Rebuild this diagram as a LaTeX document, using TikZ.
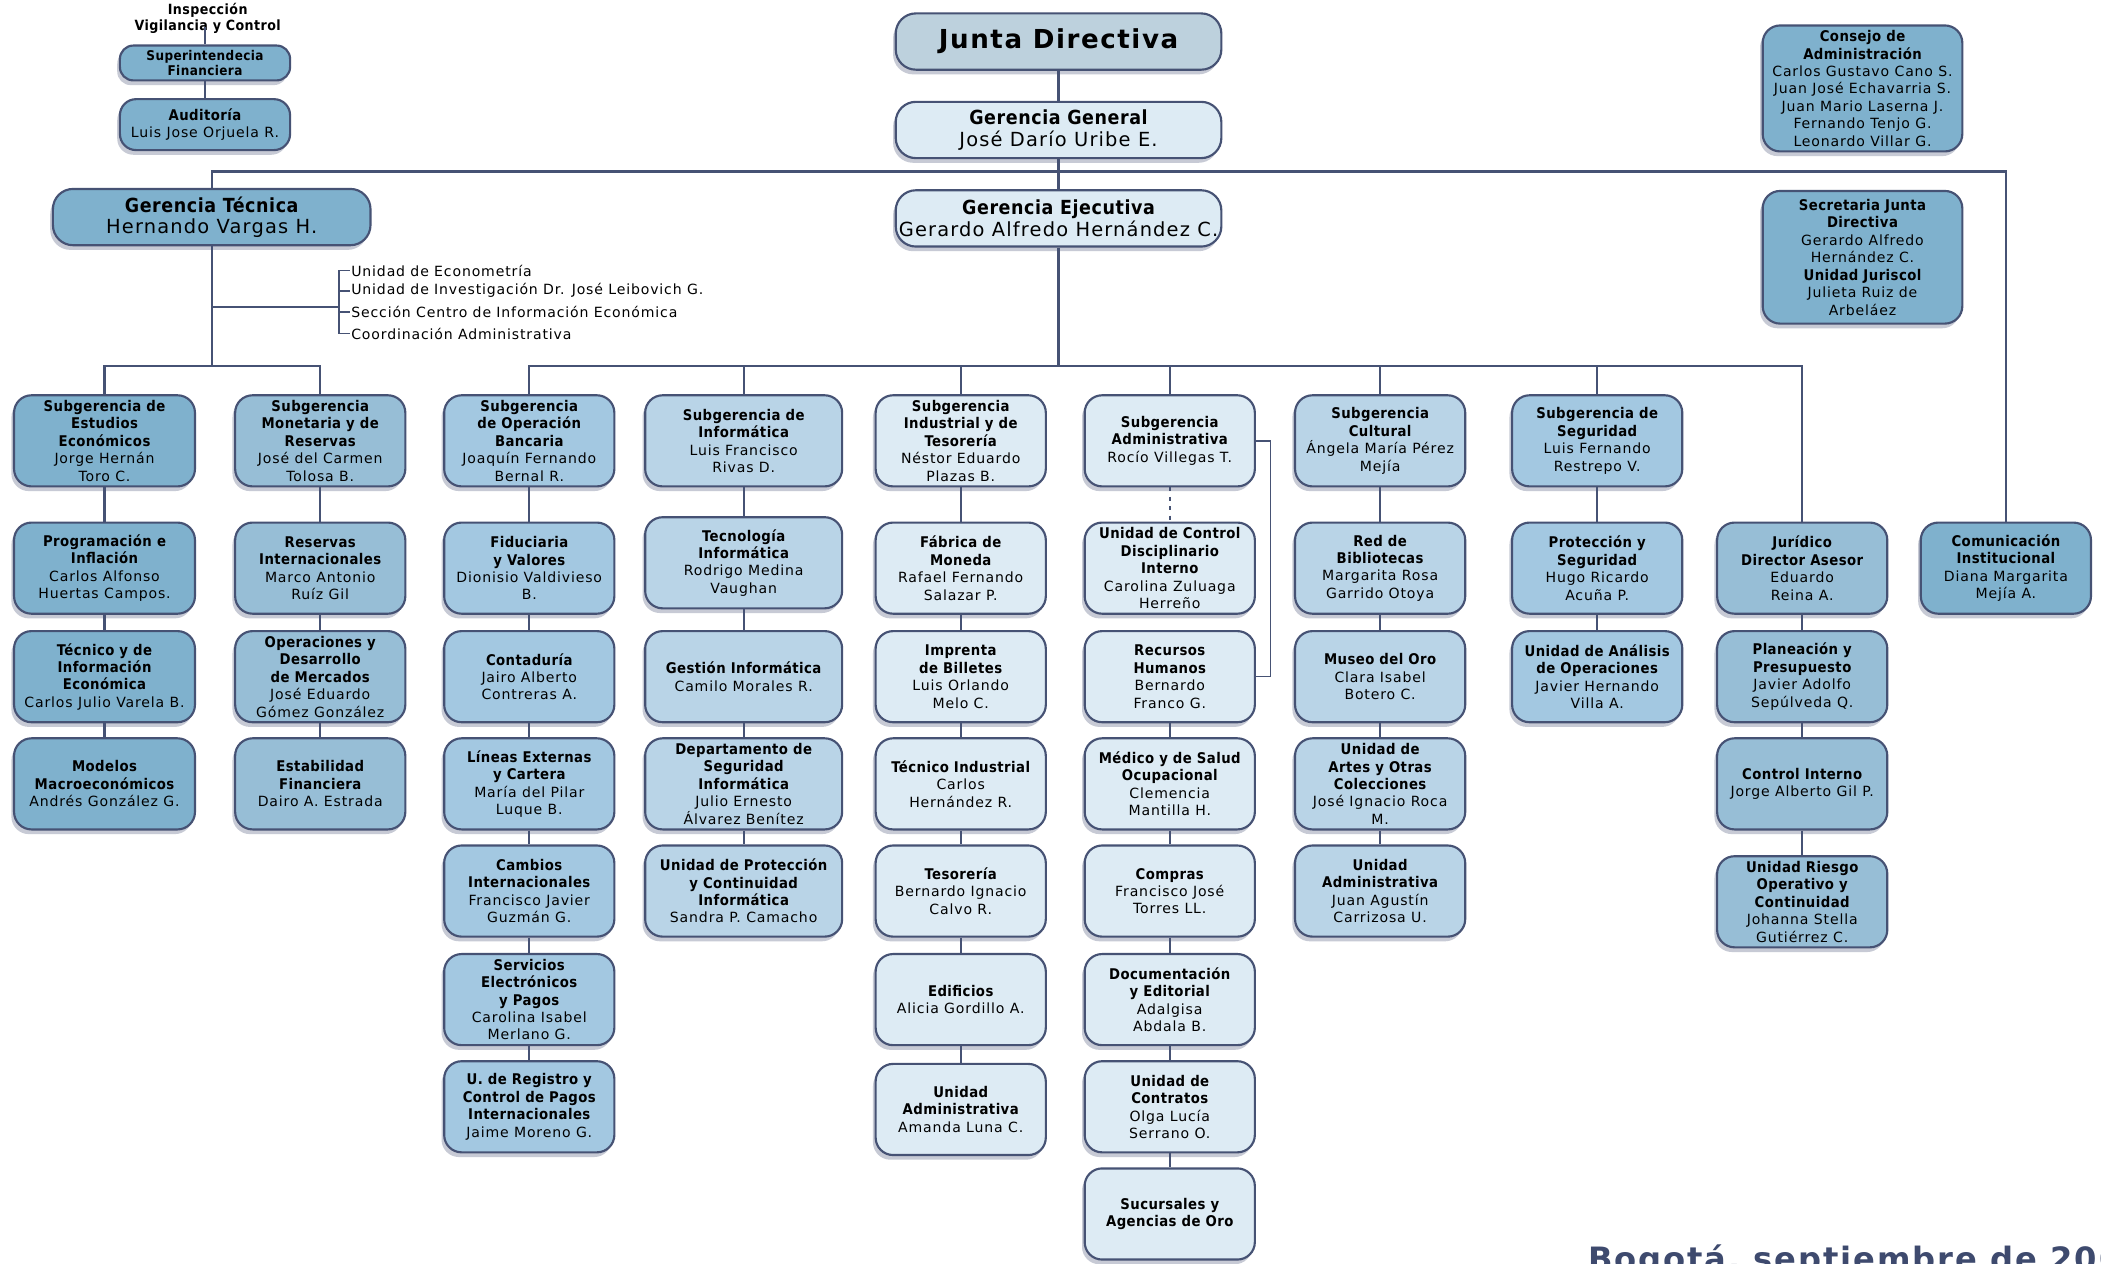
\documentclass[tikz,border=0pt]{standalone}
\usepackage{fontspec}
\setmainfont{DejaVu Sans}[LetterSpace=6.0]
\newfontfamily\condfont{DejaVu Sans Condensed}[LetterSpace=3.0]
\usetikzlibrary{shadows}

\definecolor{linec}{HTML}{465274}
\definecolor{cA}{HTML}{7FB1CD}
\definecolor{cB}{HTML}{97BED6}
\definecolor{cC}{HTML}{A3C8E1}
\definecolor{cD}{HTML}{B9D4E7}
\definecolor{cE}{HTML}{DDEBF4}
\definecolor{cJ}{HTML}{BDD1DD}
\definecolor{datec}{HTML}{3E4A6E}

\newcommand{\hdr}[1]{{\condfont\bfseries\fontsize{11}{13}\selectfont #1}}
\newcommand{\hbig}[1]{{\condfont\bfseries\fontsize{14.5}{16}\selectfont #1}}

\tikzset{
  conn/.style={draw=linec, line width=1.6pt},
  box/.style={draw=linec, line width=1.6pt, rounded corners=13pt, minimum width=127pt, minimum height=68pt,
    inner sep=1pt, align=center, font=\fontsize{10.5}{13}\selectfont,
    drop shadow={shadow xshift=-2pt, shadow yshift=-3.5pt, opacity=0.3, fill=linec}},
  head/.style={box, minimum width=243pt, minimum height=42pt, rounded corners=15pt, font=\fontsize{14.5}{16}\selectfont},
  unit/.style={anchor=west, inner sep=1pt, font=\fontsize{10.5}{12}\selectfont}
}

\begin{document}
\begin{tikzpicture}[x=1pt, y=-1pt]
    \path[use as bounding box, fill=white] (0,0) rectangle (1568,943);

    \node[align=center, font=\condfont\bfseries\fontsize{10.5}{12}\selectfont] (insp) at (155,14) {Inspección\\Vigilancia y Control};
    \node[box, fill=cA, minimum height=26pt, rounded corners=10pt, font=\condfont\bfseries\fontsize{10}{11}\selectfont] (sup) at (153,47) {Superintendecia\\Financiera};
    \node[box, fill=cA, minimum height=38pt, rounded corners=12pt] (aud) at (153,93) {\hdr{Auditoría}\\Luis Jose Orjuela R.};

    \node[head, fill=cJ, font=\bfseries\fontsize{19.5}{22}\selectfont] (junta) at (790,31) {Junta Directiva};
    \node[head, fill=cE] (gg) at (790,97) {\hbig{Gerencia General}\\José Darío Uribe E.};
    \node[head, fill=cE] (ge) at (790,163) {\hbig{Gerencia Ejecutiva}\\Gerardo Alfredo Hernández C.};
    \node[head, fill=cA, minimum width=237pt] (gt) at (158,162) {\hbig{Gerencia Técnica}\\Hernando Vargas H.};

    \node[box, fill=cA, minimum width=149pt, minimum height=94pt] (consejo) at (1390,66) {\hdr{Consejo de}\\\hdr{Administración}\\Carlos Gustavo Cano S.\\Juan José Echavarria S.\\Juan Mario Laserna J.\\Fernando Tenjo G.\\Leonardo Villar G.};
    \node[box, fill=cA, minimum width=149pt, minimum height=99pt] (secre) at (1390,192) {\hdr{Secretaria Junta}\\\hdr{Directiva}\\Gerardo Alfredo\\Hernández C.\\\hdr{Unidad Juriscol}\\Julieta Ruiz de\\Arbeláez};

    \node[unit] (u1) at (261,202) {Unidad de Econometría};
    \node[unit] (u2) at (261,217) {Unidad de Investigación Dr. José Leibovich G.};
    \node[unit] (u3) at (261,233) {Sección Centro de Información Económica};
    \node[unit] (u4) at (261,249) {Coordinación Administrativa};

    \node[box, fill=cA, minimum width=135pt] (est1) at (78,329) {\hdr{Subgerencia de}\\\hdr{Estudios}\\\hdr{Económicos}\\Jorge Hernán\\Toro C.};
    \node[box, fill=cA, minimum width=135pt] (est2) at (78,424) {\hdr{Programación e}\\\hdr{Inflación}\\Carlos Alfonso\\Huertas Campos.};
    \node[box, fill=cA, minimum width=135pt] (est3) at (78,505) {\hdr{Técnico y de}\\\hdr{Información}\\\hdr{Económica}\\Carlos Julio Varela B.};
    \node[box, fill=cA, minimum width=135pt] (est4) at (78,585) {\hdr{Modelos}\\\hdr{Macroeconómicos}\\Andrés González G.};

    \node[box, fill=cB] (mon1) at (239,329) {\hdr{Subgerencia}\\\hdr{Monetaria y de}\\\hdr{Reservas}\\José del Carmen\\Tolosa B.};
    \node[box, fill=cB] (mon2) at (239,424) {\hdr{Reservas}\\\hdr{Internacionales}\\Marco Antonio\\Ruíz Gil};
    \node[box, fill=cB] (mon3) at (239,505) {\hdr{Operaciones y}\\\hdr{Desarrollo}\\\hdr{de Mercados}\\José Eduardo\\Gómez González};
    \node[box, fill=cB] (mon4) at (239,585) {\hdr{Estabilidad}\\\hdr{Financiera}\\Dairo A. Estrada};

    \node[box, fill=cC] (ban1) at (395,329) {\hdr{Subgerencia}\\\hdr{de Operación}\\\hdr{Bancaria}\\Joaquín Fernando\\Bernal R.};
    \node[box, fill=cC] (ban2) at (395,424) {\hdr{Fiduciaria}\\\hdr{y Valores}\\Dionisio Valdivieso\\B.};
    \node[box, fill=cC] (ban3) at (395,505) {\hdr{Contaduría}\\Jairo Alberto\\Contreras A.};
    \node[box, fill=cC] (ban4) at (395,585) {\hdr{Líneas Externas}\\\hdr{y Cartera}\\María del Pilar\\Luque B.};
    \node[box, fill=cC] (ban5) at (395,665) {\hdr{Cambios}\\\hdr{Internacionales}\\Francisco Javier\\Guzmán G.};
    \node[box, fill=cC] (ban6) at (395,746) {\hdr{Servicios}\\\hdr{Electrónicos}\\\hdr{y Pagos}\\Carolina Isabel\\Merlano G.};
    \node[box, fill=cC] (ban7) at (395,826) {\hdr{U. de Registro y}\\\hdr{Control de Pagos}\\\hdr{Internacionales}\\Jaime Moreno G.};

    \node[box, fill=cD, minimum width=147pt] (inf1) at (555,329) {\hdr{Subgerencia de}\\\hdr{Informática}\\Luis Francisco\\Rivas D.};
    \node[box, fill=cD, minimum width=147pt] (inf2) at (555,420) {\hdr{Tecnología}\\\hdr{Informática}\\Rodrigo Medina\\Vaughan};
    \node[box, fill=cD, minimum width=147pt] (inf3) at (555,505) {\hdr{Gestión Informática}\\Camilo Morales R.};
    \node[box, fill=cD, minimum width=147pt] (inf4) at (555,585) {\hdr{Departamento de}\\\hdr{Seguridad}\\\hdr{Informática}\\Julio Ernesto\\Álvarez Benítez};
    \node[box, fill=cD, minimum width=147pt] (inf5) at (555,665) {\hdr{Unidad de Protección}\\\hdr{y Continuidad}\\\hdr{Informática}\\Sandra P. Camacho};

    \node[box, fill=cE] (ind1) at (717,329) {\hdr{Subgerencia}\\\hdr{Industrial y de}\\\hdr{Tesorería}\\Néstor Eduardo\\Plazas B.};
    \node[box, fill=cE] (ind2) at (717,424) {\hdr{Fábrica de}\\\hdr{Moneda}\\Rafael Fernando\\Salazar P.};
    \node[box, fill=cE] (ind3) at (717,505) {\hdr{Imprenta}\\\hdr{de Billetes}\\Luis Orlando\\Melo C.};
    \node[box, fill=cE] (ind4) at (717,585) {\hdr{Técnico Industrial}\\Carlos\\Hernández R.};
    \node[box, fill=cE] (ind5) at (717,665) {\hdr{Tesorería}\\Bernardo Ignacio\\Calvo R.};
    \node[box, fill=cE] (ind6) at (717,746) {\hdr{Edificios}\\Alicia Gordillo A.};
    \node[box, fill=cE] (ind7) at (717,828) {\hdr{Unidad}\\\hdr{Administrativa}\\Amanda Luna C.};

    \node[box, fill=cE] (adm1) at (873,329) {\hdr{Subgerencia}\\\hdr{Administrativa}\\Rocío Villegas T.};
    \node[box, fill=cE] (adm2) at (873,424) {\hdr{Unidad de Control}\\\hdr{Disciplinario}\\\hdr{Interno}\\Carolina Zuluaga\\Herreño};
    \node[box, fill=cE] (adm3) at (873,505) {\hdr{Recursos}\\\hdr{Humanos}\\Bernardo\\Franco G.};
    \node[box, fill=cE] (adm4) at (873,585) {\hdr{Médico y de Salud}\\\hdr{Ocupacional}\\Clemencia\\Mantilla H.};
    \node[box, fill=cE] (adm5) at (873,665) {\hdr{Compras}\\Francisco José\\Torres LL.};
    \node[box, fill=cE] (adm6) at (873,746) {\hdr{Documentación}\\\hdr{y Editorial}\\Adalgisa\\Abdala B.};
    \node[box, fill=cE] (adm7) at (873,826) {\hdr{Unidad de}\\\hdr{Contratos}\\Olga Lucía\\Serrano O.};
    \node[box, fill=cE] (adm8) at (873,906) {\hdr{Sucursales y}\\\hdr{Agencias de Oro}};

    \node[box, fill=cD] (cul1) at (1030,329) {\hdr{Subgerencia}\\\hdr{Cultural}\\Ángela María Pérez\\Mejía};
    \node[box, fill=cD] (cul2) at (1030,424) {\hdr{Red de}\\\hdr{Bibliotecas}\\Margarita Rosa\\Garrido Otoya};
    \node[box, fill=cD] (cul3) at (1030,505) {\hdr{Museo del Oro}\\Clara Isabel\\Botero C.};
    \node[box, fill=cD] (cul4) at (1030,585) {\hdr{Unidad de}\\\hdr{Artes y Otras}\\\hdr{Colecciones}\\José Ignacio Roca\\M.};
    \node[box, fill=cD] (cul5) at (1030,665) {\hdr{Unidad}\\\hdr{Administrativa}\\Juan Agustín\\Carrizosa U.};

    \node[box, fill=cC] (seg1) at (1192,329) {\hdr{Subgerencia de}\\\hdr{Seguridad}\\Luis Fernando\\Restrepo V.};
    \node[box, fill=cC] (seg2) at (1192,424) {\hdr{Protección y}\\\hdr{Seguridad}\\Hugo Ricardo\\Acuña P.};
    \node[box, fill=cC] (seg3) at (1192,505) {\hdr{Unidad de Análisis}\\\hdr{de Operaciones}\\Javier Hernando\\Villa A.};

    \node[box, fill=cB] (jur1) at (1345,424) {\hdr{Jurídico}\\\hdr{Director Asesor}\\Eduardo\\Reina A.};
    \node[box, fill=cB] (jur2) at (1345,505) {\hdr{Planeación y}\\\hdr{Presupuesto}\\Javier Adolfo\\Sepúlveda Q.};
    \node[box, fill=cB] (jur3) at (1345,585) {\hdr{Control Interno}\\Jorge Alberto Gil P.};
    \node[box, fill=cB] (jur4) at (1345,673) {\hdr{Unidad Riesgo}\\\hdr{Operativo y}\\\hdr{Continuidad}\\Johanna Stella\\Gutiérrez C.};

    \node[box, fill=cA] (com) at (1497,424) {\hdr{Comunicación}\\\hdr{Institucional}\\Diana Margarita\\Mejía A.};

    \node[anchor=base west, inner sep=0pt, text=datec, font=\bfseries\fontsize{24}{24}\selectfont] (fecha) at (1185,948) {Bogotá, septiembre de 200};

    \coordinate (top) at (790,128);
    \coordinate (tb) at (158,273);
    \coordinate (tm) at (158,229);
    \coordinate (spine) at (253,229);
    \coordinate (eb) at (790,273);

    \draw[conn] (sup.north) -- ++(0,-13);
    \draw[conn] (sup) -- (aud);
    \draw[conn] (junta) -- (gg);
    \draw[conn] (gg) -- (ge);
    \draw[conn] (gt.north) |- (top) -| (com.north);
    \draw[conn] (gt) -- (tb);
    \draw[conn] (tm) -- (spine);
    \draw[conn, line width=1.2pt] (u1.west) -- ++(-8,0) |- (u4.west);
    \foreach \n in {u2,u3} \draw[conn, line width=1.2pt] (\n.west) -- ++(-8,0);
    \draw[conn] (est1.north) |- (tb) -| (mon1.north);
    \draw[conn] (ge) -- (eb);
    \draw[conn] (ban1.north) |- (eb) -| (jur1.north);
    \foreach \n in {inf1,ind1,adm1,cul1,seg1} \draw[conn] (\n.north) -- (\n.north |- eb);
    \foreach \a/\b in {est1/est2,est2/est3,est3/est4,mon1/mon2,mon2/mon3,mon3/mon4,
        ban1/ban2,ban2/ban3,ban3/ban4,ban4/ban5,ban5/ban6,ban6/ban7,
        inf1/inf2,inf2/inf3,inf3/inf4,inf4/inf5,
        ind1/ind2,ind2/ind3,ind3/ind4,ind4/ind5,ind5/ind6,ind6/ind7,
        adm3/adm4,adm4/adm5,adm5/adm6,adm6/adm7,adm7/adm8,
        cul1/cul2,cul2/cul3,cul3/cul4,cul4/cul5,seg1/seg2,seg2/seg3,
        jur1/jur2,jur2/jur3,jur3/jur4}
        \draw[conn] (\a) -- (\b);
    \draw[conn, dash pattern=on 3pt off 4pt] (adm1) -- (adm2);
    \draw[conn, line width=1.2pt] (adm1.east) -- ++(11,0) |- (adm3.east);
\end{tikzpicture}
\end{document}
